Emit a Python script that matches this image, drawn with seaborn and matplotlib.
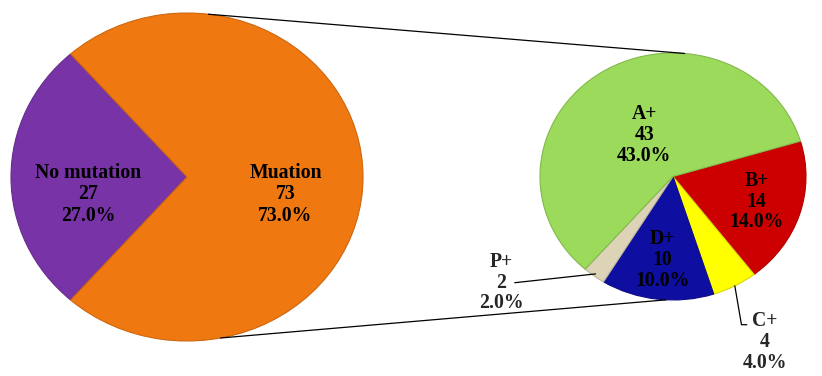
import matplotlib
matplotlib.use("Agg")
import matplotlib.pyplot as plt
import seaborn as sns
import numpy as np
from matplotlib.patches import ConnectionPatch
from matplotlib.colors import to_rgb

# ---- data ----
main_labels = ["No mutation", "Muation"]
main_values = [27, 73]
main_colors = ["#7834A6", "#F07811"]

sub_labels = ["B+", "C+", "D+", "P+", "A+"]
sub_values = [14, 4, 10, 2, 43]
sub_colors = ["#CC0000", "#FFFF00", "#0E0EA0", "#DDD4B8", "#9BDA5A"]

total = sum(main_values)

sns.set_theme(style="white")
plt.rcParams["font.family"] = ["Liberation Serif", "DejaVu Serif"]

W, H = 822, 376
fig = plt.figure(figsize=(W / 100, H / 100), dpi=100)
fig.patch.set_facecolor("white")

FS = 14.2

def px_axes(x0, x1, y0, y1):
    return fig.add_axes([x0 / W, (H - y1) / H, (x1 - x0) / W, (y1 - y0) / H])

def darker(c, f=0.75):
    r, g, b = to_rgb(c)
    return (r * f, g * f, b * f)

# ---- left pie ----
axL = px_axes(11, 363, 13, 341)
wL, _ = axL.pie(main_values, colors=main_colors, startangle=131.4,
                counterclock=True, radius=1.0,
                wedgeprops=dict(linewidth=0.8))
for w, c in zip(wL, main_colors):
    w.set_edgecolor(darker(c, 0.85))
axL.set_aspect("auto")
axL.set_xlim(-1, 1)
axL.set_ylim(-1, 1)
axL.axis("off")
for w, lab, v in zip(wL, main_labels, main_values):
    ang = np.deg2rad((w.theta1 + w.theta2) / 2)
    d = 0.56
    axL.text(d * np.cos(ang), d * np.sin(ang) - 0.105,
             f"{lab}\n{v}\n{v / total * 100:.1f}%",
             ha="center", va="center", fontsize=FS, fontweight="bold",
             color="black", linespacing=1.1, zorder=5)

# ---- right pie ----
axR = px_axes(540, 806, 53, 300)
wR, _ = axR.pie(sub_values, colors=sub_colors, startangle=16.6,
                counterclock=False, radius=1.0,
                wedgeprops=dict(linewidth=0.8))
for w, c in zip(wR, sub_colors):
    w.set_edgecolor(darker(c, 0.85))
axR.set_aspect("auto")
axR.set_xlim(-1, 1)
axR.set_ylim(-1, 1)
axR.axis("off")

inside = {"A+": 0.40, "B+": 0.66, "D+": 0.68}
for w, lab, v in zip(wR, sub_labels, sub_values):
    ang = np.deg2rad((w.theta1 + w.theta2) / 2)
    txt = f"{lab}\n{v}\n{v / total * 100:.1f}%"
    if lab in inside:
        d = inside[lab]
        axR.text(d * np.cos(ang), d * np.sin(ang), txt, ha="center", va="center",
                 fontsize=FS, fontweight="bold", linespacing=1.05, color="black",
                 zorder=5)
    elif lab == "C+":
        sx, sy = np.cos(ang), np.sin(ang)
        axR.plot([sx, sx + 0.05, sx + 0.09], [sy, -1.20, -1.20], color="black",
                 lw=0.9, clip_on=False)
        axR.text(0.69, -1.34, txt, ha="center", va="center", fontsize=FS,
                 fontweight="bold", linespacing=1.05, clip_on=False, zorder=5)
    elif lab == "P+":
        sx, sy = np.cos(ang) * 0.98, np.sin(ang) * 0.98
        axR.plot([sx, -1.19], [sy, -0.86], color="black", lw=0.9, clip_on=False)
        axR.text(-1.29, -0.86, txt, ha="center", va="center", fontsize=FS,
                 fontweight="bold", linespacing=1.05, clip_on=False, zorder=5)

# ---- connector lines ----
for aL, aR in [(83, 85), (-79, -93)]:
    tL, tR = np.deg2rad(aL), np.deg2rad(aR)
    con = ConnectionPatch(xyA=(np.cos(tL), np.sin(tL)), coordsA=axL.transData,
                          xyB=(np.cos(tR), np.sin(tR)), coordsB=axR.transData,
                          color="black", lw=0.9)
    fig.add_artist(con)

fig.savefig("out.png", dpi=100, facecolor="white")
